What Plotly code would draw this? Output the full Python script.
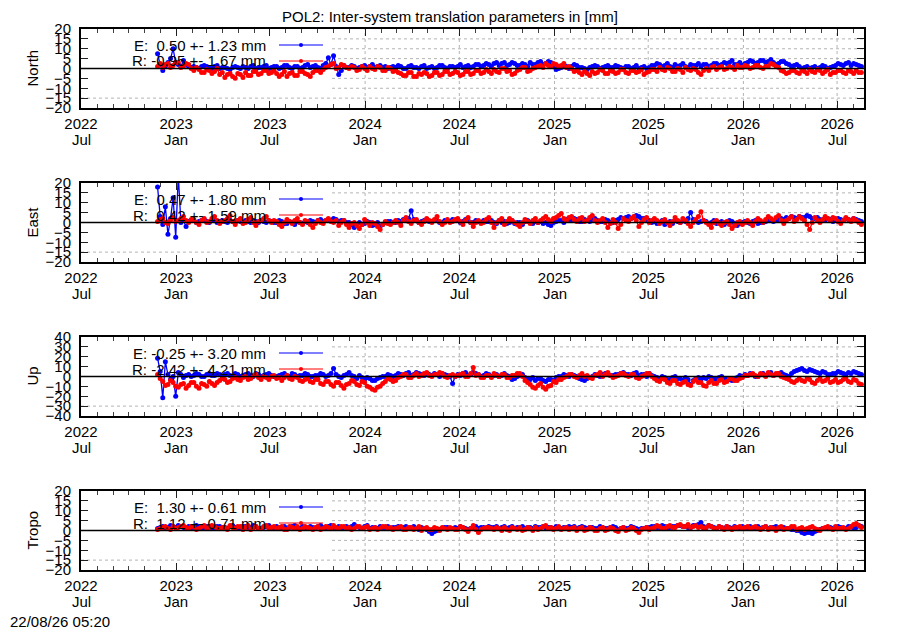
import plotly.graph_objects as go
import pandas as pd

# ---------------- data (5-day samples) ----------------
START = "2022-11-26"
STEP = "5D"

north_E = [7.5, 2, -1, 1, 3, 5, 10, 3, 2, 1, 4, 2, 1, 0.5,
           1, 0.5, 0, 1, 1.5, 1, 0.5, 0, 1, 1.5, 0, 0.5,
           0.5, 0, -0.5, 0.5, 1, 0.5, 0, 1, 0.5, 0, 1, 1.5, 0, 0.5, 0.5, 1, 1.5, 0, 0.5, 1,
           1, 0, 0.5, 1.5, 1.5, 0.5, 0, 1, 1, 0, 0.5, 1.5, 2, 0.5, 1, 1.5, 0.5, 0, 1.5, 2.5,
           5.5, 2, 6.5, 1, -3, -1, 1.5, 0.5, 0.5, 1.5,
           1, 0, 0.5, 1, 1.5, 0.5, 1, 2, 0.5, 1, 1.5, 0.5, 1, 0, 0.5, 1,
           0.5, 1.5, 1, 0, 0, 1, 1.5, 0.5, 0.5, 0, 1, 1.5, 0, 0.5, 1, 0, 0.5, 1.5, 1.5, 0.5, 0, 1, 1, 0.5,
           1, 2, 0.5, 1, 1.5, 0.5, 1, 2, 2, 1, 1.5, 2.5,
           2, 1, 2.5, 3, 1.5, 2.5, 3, 1.5, 2, 3, 2.5, 1.5, 1.5, 2.5, 2, 1, 3, 2, 2, 3,
           3.5, 2, 2.5, 3.5, 3, 1, -0.5, 0, 0.5, 1.5, 1, 0,
           1, 2, 1.5, 0.5, 0.5, 0, -0.5, 0.5, 1, 1.5,
           1, 0, 0.5, 1, 1.5, 0.5, 0.5, 1.5, 1, 0.5, 0, 1, 1, 0, 0.5, 1.5, 0, 0.5, 1, 0, 0.5, 1.5,
           1.5, 2.5, 2, 1, 1.5, 2.5, 1, 0.5, 2, 1, 1.5, 2.5, 1, 0.5, 2, 1.5, 1.5, 2.5, 1, 2,
           2, 1, 1.5, 2.5, 2.5, 1.5, 2, 3, 2.5, 3, 4, 2, 2, 3, 1.5, 2.5,
           3, 4, 3.5, 2.5, 3, 4, 4, 3, 3.5, 4.5, 3, 2, 2.5, 3.5, 3.5, 2.5, 2, 1, 1.5, 2, 1, 0,
           0.5, 1, 0, 0.5, 1, 0, 0.5, 1.5, 1, 0, 0.5, 1, 1.5, 2.5,
           2, 1.5, 2.5, 3, 1.5, 2.5, 2, 1.5, 1]
north_R = [1, 2.5, 0.5, 2, 2.5, 0.5, 1.5, 3, 3, 0.5, 1, 2.5, 2, 0,
           -1, 0.5, -0.5, -2, -2, -0.5, -1, -2.5, -1.5, 0, -3, -2,
           -4.5, -3, -2.5, -4, -5, -2.5, -3, -4.5, -2, -3.5, -3.5, -1.5, -1.5, -3, -2.5, -1, -1, -2.5, -2, -1,
           -2.5, -4, -3, -1.5, -4, -2.5, -2, -3.5, -3.5, -1.5, -1.5, -2.5, -3, -4, -2, -1, -1, -2, -0.5, 0.5,
           1, 2, 2.5, 0, 0.5, 2, 1.5, 0.5, 0, 1,
           0.5, -1, -0.5, 1, 0, -1, 1, 0, -0.5, 1, 0.5, -1, -1, 0.5, 0, -1.5,
           -1, -2, -2.5, -3.5, -3.5, -2, -2, -4, -4, -2.5, -3, -2, -2.5, -4, -3.5, -2, -2, -3.5, -3, -1.5, -1.5, -3, -2.5, -1.5,
           -2, -3.5, -3, -1.5, -1.5, -3, -2.5, -1, -1, -2.5, -2, -0.5,
           -1.5, -2.5, -0.5, -1.5, -2, 0, 0, -1.5, -1, -3, -2.5, -1, -0.5, 0.5, 0.5, -1.5, -1, 0, 0.5, 1,
           1.5, 0.5, 2.5, 1.5, 1, 2.5, 2, 1, 1.5, 2.5, 0.5, 1,
           0, -1.5, -1, -2, -3, -1.5, -2.5, -3.5, -1.5, -2.5,
           -2, -0.5, -1, -2.5, -2.5, -1, -1.5, -2.5, -2, -0.5, -0.5, -2, -2.5, -1, -1, -2, -1.5, -0.5, -3, -2, -1.5, -0.5,
           -0.5, -1.5, 0.5, -0.5, -1, 0.5, 0, -1.5, -1.5, 0, -0.5, -2, 0.5, -0.5, -1, 0, -0.5, -2, -3, -1,
           0, -1, 0.5, 1, -0.5, 0.5, 1, -0.5, 0, 1, 0.5, -0.5, 1.5, 0.5, 0.5, 1.5,
           1, 0, 0.5, 1.5, 1.5, 0.5, 0, 1, 1, 2.5, 2, 1, 0.5, -1, -1.5, -2.5, -2, -1, -1, -2, -2.5, -1,
           -1.5, -2.5, -0.5, -1.5, -2, -0.5, -1, -2.5, -1.5, -0.5, -3, -2, -2, -1,
           -1, -2, -2.5, -1, -1.5, -2.5, -1, -2, -2]

east_E = [18, 3, -1, 8, -6, 2, 12.5, -7.5, 24, 0, 1, -2, 0.5, 1,
          1, 0, 0.5, 1, 1.5, 0.5, 0, 1, 1, 0, 0.5, 1,
          0.5, 0, 1, 0.5, 0, 1, 0.5, 0, 1, 0.5, 0, 1, 0.5, 0, 1, 0.5, 0, 1, 0.5, 0,
          0, 1, 0.5, -0.5, -0.5, 0.5, 0, -1, 0.5, 0, -0.5, 0.5, 0, 1, 0.5, 0, 1, 1.5, 0.5, 1,
          1.5, 1, 2, 1.5, 0.5, 1, 1, 0, 0, -1,
          -2.5, -1, 0, -1, -0.5, 0.5, 0, -1.5, -1, 0, -2, -1, 0, 0.5, 0.5, 0,
          0, 1, 0.5, 1.5, 1, 2, 6, 1.5, 1, 0, 0.5, 1, 1.5, 0.5, 0.5, 1, 1, 0, 0, 1, 1, 0.5, 1.5, 1,
          1, 0, 0.5, 1.5, 1, 0, 0, 1, 0.5, 0, 1, 0.5,
          0.5, 1, 0, -0.5, 1, 0, 0.5, -0.5, 0, 1, -0.5, 0, 0, -1, 0.5, 1, 0, -0.5, 0.5, 0,
          0.5, -0.5, 0, -1, -1.5, 0, 0.5, 1, 1, 0, 1.5, 1,
          1, 2, 1.5, 0.5, 0.5, 1.5, 1, 0.5, 1.5, 2,
          1, 0.5, 0.5, 1.5, 1, 0, 0, 1, 1.5, 2.5, 2, 2.5, 3, 2, 2.5, 3.5, 3, 2, 2, 1.5, 1, 0,
          0.5, -0.5, 0, 1, -1, 0, 0.5, -0.5, 1, 0.5, 0, 1, 0.5, 2, 5, 1.5, 1, 0, 0.5, 1,
          0.5, -0.5, 0, 1, -0.5, 0, 0.5, -1, 0, 1, 0.5, -0.5, -1.5, -0.5, 0, 0.5,
          0, -0.5, 0.5, 1, -0.5, 0, 0, 0.5, 1, 1.5, 0.5, 1, 1, 2, 1.5, 2.5, 2, 3, 2.5, 2, 3, 2.5,
          2.5, 3.5, 3, 2, 2, 2.5, 1.5, 1, 1, 2, 1.5, 0.5, 1, 2,
          1.5, 1, 2, 1.5, 1, 2, 1.5, 1, 0.5]
east_R = [0.5, 1.5, 2, 0, -0.5, 1, 2.5, 0.5, 1, 2, 3, 1, 0, 1.5,
          1.5, 0, -1, 1, 2, 0, 0.5, 2, 3, 1, -0.5, 0.5,
          1, 2, 3.5, 0.5, -1, 1, 2, -0.5, 0, 1.5, 2.5, 0, -1.5, 0.5, 1, 2, 3, 1, 0, 1,
          0.5, -1, -2, 0, 1.5, 0.5, -0.5, 1, 2, 0, -1, 1, 0.5, -1, -2.5, -0.5, 1, 0, -0.5, 1,
          2, 0.5, 0, 1, -1.5, 0, 1, -1, -2.5, -0.5,
          0, -1.5, -3, -1, 1.5, 0, -1.5, 0, -0.5, -2, -3.5, -1, 0.5, -0.5, -1, 0,
          1, 0, -1.5, 1, 2.5, 0.5, -0.5, 1, 1.5, 0, -1, 0.5, 2, 1, 0, 1.5, 3, 0.5, -1, 0, 1.5, 0, 0.5, 1.5,
          2, 0.5, -1, 1, 2.5, 0, -2, 0, 1, -0.5, 0, 1.5,
          2.5, 0, -2.5, 0, 1, 2, -1, 0.5, 2, 1, 0, -1, -2, 0, 1.5, 0.5, -0.5, 1, 2, 0,
          1, 2, 3, 1.5, 0.5, 2, 2.5, 3.5, 4.5, 2, 1, 2.5,
          3, 1.5, 0.5, 2, 2.5, 0.5, 1, 2.5, 3.5, 1,
          0, 1, 2, 0, -2.5, -0.5, 1.5, 0, -3, -1, 2, 1, 0.5, 2, 3, 1, -2, 0, 1.5, 2.5, 0, 1,
          2, 1, -0.5, 0.5, 1.5, 0, -1.5, 0.5, 2.5, 1, 0, 2, 1, -0.5, -2, 0, 1.5, 3, 5.5, 1,
          0, -1, -2.5, 0, 1, -0.5, -1.5, 0, 0.5, -1, -3, -1.5, 0, 0.5, -1, 0,
          1, 0, -1.5, 0.5, 2, 1, 0, 1.5, 3, 2, 1, 2.5, 3.5, 1, -0.5, 1, 2, 3, 0.5, 1.5, 3, 2,
          1, -1, -3.5, 0, 2.5, 1, 0, 1.5, 3, 2, 1, 2.5, 2, 0.5,
          -0.5, 1, 2.5, 1.5, 0.5, 2, 1, 0, -1]

up_E = [18.5, 5, -21.5, 15, 2, -3, 0, -20, 4, 2, -1, 1, 2, 0,
        1, 3, 2, 0, 0, 2, 3, 1, 1, 3, 2, 0,
        2, 3, 1, 0, 3, 2, 0, 1, 2, 3, 1, 0, 3, 2, 0, 1, 2, 3, 1, 0,
        0, 1, 2, 3, 1, 0, 3, 2, 0, 1, 1, 3, 2, 0, 0, 1, 1, 3, 2, 0,
        1, 3, 8, 2, 0, -1, 1, 2, 4, 1,
        0, -2, 1, -1, -3, -1, -2, -4, -4, -2, -1, 0, 0, 2, 1, 0,
        1, 3, 2, 1, 3, 4, 1, 2, 4, 3, 2, 1, 3, 2, 1, 3, 2, 0, 3, 2, 1, 0, -7, 0,
        2, 1, 3, 4, 1, 2, 4, 3, 2, 0, 1, 3,
        2, 0, 1, 2, 0, 1, 3, 1, 0, -3, -2, 0, 1, 2, -1, -2, -3, -1, -4, -2,
        -2, -4, -5, -3, -3, -4, -1, 0, 0, 2, 1, 0,
        2, 1, 0, -2, -3, -4, -2, -1, 0, 2,
        1, 0, 2, 3, 3, 1, 1, 2, 2, 3, 4, 2, 2, 1, 3, 4, 1, 2, 2, 0, 3, 1,
        0, -1, -2, 0, -1, -3, -3, -1, 0, -2, -2, -4, -1, -3, -8, -4, -2, -1, -3, -1,
        -2, 0, -1, -2, -3, -1, 0, -2, -2, -3, -4, -2, -1, 1, 0, 2,
        1, 3, 2, 0, 0, 2, 3, 1, 2, 4, 1, 2, 3, 4, 2, 1, 0, 3, 5, 6, 7, 8,
        6, 5, 7, 6, 5, 4, 3, 5, 4, 2, 2, 3, 3, 5,
        4, 3, 2, 4, 3, 5, 4, 3, 2]
up_R = [2, -2, -5, -9, -8, -4, -6, -10, -11, -8, -7, -12, -9, -6,
        -6, -10, -12, -7, -8, -10, -5, -7, -9, -6, -4, -2,
        -3, -6, -5, -2, -1, -3, -4, -1, 0, -3, -2, 1, 2, -1, -3, 0, -1, -3, 0, 1,
        -2, -1, -4, -1, 1, -2, -3, 0, -1, -4, -5, -3, -2, -5, -6, -3, -3, -7, -8, -5,
        -5, -8, -10, -6, -6, -9, -12, -8, -7, -4,
        -5, -8, -9, -5, -6, -10, -11, -13, -14, -11, -10, -7, -5, -2, -3, -5,
        -4, -1, 0, 2, 2, -1, -1, 1, 3, 0, 1, 3, 4, 1, 0, 2, 2, 4, 3, 0, -1, 1, 2, 0,
        1, 2, 3, 0, 0, 3, 9, 1, 2, -1, -1, 1,
        1, -1, 3, 1, 0, 2, 2, -1, -1, 1, 1, 3, 3, 0, -4, -6, -8, -11, -12, -9,
        -7, -11, -13, -10, -9, -5, -6, -3, -3, -1, 0, 2,
        2, 0, -1, 1, 3, 0, 1, -1, -2, 1,
        2, 4, 0, 2, 4, 1, -1, 0, 1, 3, 3, 1, 0, 2, 2, -1, -2, 0, 1, 3, 3, 0,
        -2, -4, -5, -2, -3, -6, -7, -4, -4, -7, -8, -6, -5, -8, -9, -5, -3, -6, -6, -9,
        -10, -6, -4, -7, -7, -4, -3, -6, -5, -2, -2, -4, -4, -2, -1, 1,
        1, 2, 3, 1, 0, 3, 2, 0, 4, 2, 1, 3, 3, 0, -1, -2, -3, -5, -6, -4, -2, -4,
        -5, -2, -3, -6, -7, -4, -2, -5, -4, -2, -6, -5, -3, -6,
        -5, -3, -2, -5, -6, -3, -4, -7, -8]

tropo_E = [1, 1.5, 2, 1, 1.5, 2.5, 2, 1.5, 2.5, 2, 1.5, 1, 2, 1.5,
           1.5, 2.5, 2, 1.5, 1, 2, 2, 1, 1.5, 2, 2, 1.5,
           1.5, 1, 2, 2.5, 1.5, 1, 1, 2, 2, 1.5, 1.5, 2.5, 2, 1, 1, 1.5, 2, 2.5, 1.5, 1,
           2, 1, 1.5, 2, 1, 1.5, 2, 2.5, 1.5, 1, 2, 1.5, 1, 2, 1.5, 1, 2, 2.5, 1.5, 1,
           2, 2.5, 1.5, 1, 2, 1.5, 1, 2, 1.5, 2,
           3, 2, 1.5, 1, 2, 2.5, 1, 1.5, 1.5, 1, 2, 1.5, 1.5, 2, 1, 1.5,
           1.5, 2, 1, 1.5, 2, 1, 1.5, 2, 1, 0.5, 1.5, 1, 0.5, -0.5, -1.5, -0.5, 0, 0.5, 1, 1.5, 1.5, 1, 1, 1.5,
           1, 2, 1.5, 1, 0.5, 1, 1.5, 2, 1, 1.5, 1.5, 1,
           2, 1.5, 1.5, 2, 1, 1.5, 2, 1, 1.5, 2, 1, 1.5, 1.5, 2, 1, 1.5, 1.5, 1, 2, 1.5,
           1.5, 2, 1, 1.5, 1.5, 1, 2, 1.5, 1, 1.5, 1.5, 2,
           1.5, 2, 1, 1.5, 2, 1.5, 1, 1.5, 1.5, 1,
           1, 2, 1.5, 1, 1, 1.5, 2, 1.5, 0.5, 1, 1.5, 1, 1, 2, 1.5, 1, 0.5, 1, 1, 1.5, 1.5, 2,
           2, 1.5, 1.5, 2.5, 2, 1.5, 1.5, 2, 2, 2.5, 2.5, 2, 2, 1.5, 1.5, 2.5, 2.5, 3, 4, 2,
           1.5, 2.5, 2, 1.5, 1, 2, 1.5, 1, 2, 1.5, 1, 2, 1.5, 1, 2, 1.5,
           1.5, 2, 1, 1.5, 2, 1, 1.5, 2, 1, 1.5, 1.5, 2, 1, 1.5, 1.5, 1, 1, 0.5, 0.5, 0, 0, -1,
           -1.5, -1, -1, -1.5, -0.5, 0, 0.5, 1, 1, 1.5, 1.5, 1, 1, 2,
           1.5, 1, 1, 2, 2, 1, 1.5, 2.5, 2]
tropo_R = [0.5, 1, 1.5, 2, 1, 0.5, 2, 1, 1.5, 2, 2.5, 1.5, 1, 2,
           2, 0.5, 1, 2, 2.5, 1, 1.5, 2.5, 2, 1, 1, 1.5,
           1.5, 0.5, 2.5, 1.5, 1, 2, 2, 0.5, 1.5, 2.5, 0.5, 1, 2, 1, 1, 2, 2.5, 1, 1.5, 2,
           1, 1.5, 2, 0.5, 0.5, 2, 1.5, 1, 2, 0.5, 1, 2, 1.5, 1, 0.5, 1.5, 2, 0.5, 1, 2,
           1.5, 1, 2.5, 1.5, 1, 2, 2, 1, 1.5, 0.5,
           1, 2, 2, 1, 1.5, 2, 0.5, 1, 1.5, 0.5, 1, 2, 2, 1, 1.5, 0.5,
           1, 1.5, 2, 0.5, 0.5, 1.5, 1.5, 0.5, 1, 2, 0, 1, 1.5, 0.5, 0.5, 1.5, 1, 0, 1.5, 1, 0.5, 1.5, 1, 0.5,
           0.5, 2, 1.5, 0.5, -0.5, 1, 2.5, 0.5, -1, 0.5, 1, 1.5,
           1.5, 1, 0.5, 1.5, 1, 0, 1.5, 0.5, 0, 1.5, 1, 0.5, 1.5, 0, 0.5, 1.5, 1, 0, 1.5, 0.5,
           1, 2, 2.5, 1, 1.5, 0.5, 1, 2, 0.5, 1, 1.5, 0.5,
           1, 1.5, 0, 1, 1.5, 0, 0.5, 1.5, 1, 0,
           0, 1, 1.5, 0, 0.5, 1.5, 1, 0, -0.5, 1, 1.5, 0, 0.5, 1.5, 1, 0, -1, 0.5, 1, 1.5, 0.5, 1,
           1.5, 2.5, 2, 1, 1, 2, 2.5, 1.5, 1.5, 2.5, 3, 2, 2, 3, 1.5, 2, 2.5, 1.5, 2, 1,
           1.5, 2.5, 2, 1, 1, 2, 1.5, 0.5, 2, 1, 0.5, 1.5, 1.5, 2, 1, 1.5,
           2, 1, 1.5, 2, 1, 0.5, 1.5, 2, 0.5, 1.5, 1, 0, 1.5, 2, 0.5, 1, 1, 2, 2, 0.5, 1, 1.5,
           0.5, 1, 1.5, 2, 1, 0.5, 0, 1, 1.5, 2, 1, 0.5, 2, 1,
           1, 1.5, 0.5, 1, 2, 3, 3.5, 2.5, 1.5]

panel_names = ["North", "East", "Up", "Tropo"]
panel_ranges = [20, 20, 40, 20]
panel_dticks = [5, 5, 10, 5]
series_E = [north_E, east_E, up_E, tropo_E]
series_R = [north_R, east_R, up_R, tropo_R]
stats_E = ["\u00a00.50 +- 1.23 mm", "\u00a00.47 +- 1.80 mm", "-0.25 +- 3.20 mm", "\u00a01.30 +- 0.61 mm"]
stats_R = ["-0.95 +- 1.67 mm", "\u00a00.42 +- 1.59 mm", "-2.42 +- 4.21 mm", "\u00a01.12 +- 0.71 mm"]

tick_dates = ["2022-07-01", "2023-01-01", "2023-07-01", "2024-01-01", "2024-07-01",
              "2025-01-01", "2025-07-01", "2026-01-01", "2026-07-01"]
tick_years = ["2022", "2023", "2023", "2024", "2024", "2025", "2025", "2026", "2026"]
tick_months = ["Jul", "Jan", "Jul", "Jan", "Jul", "Jan", "Jul", "Jan", "Jul"]
X_RANGE = ["2022-07-01", "2026-08-22"]
TITLE = "POL2: Inter-system translation parameters in [mm]"
STAMP = "22/08/26 05:20"

# ---------------- layout helpers (screen pixel -> paper) ----------------
OFF = 8                      # page body margin
W, H = 892, 622
ML, MR, MT, MB = 81 - OFF, 36, 29 - OFF, 60
PW, PH = W - ML - MR, H - MT - MB   # 783 x 541


def px(x):
    return (x - 81) / PW


def pyu(y):
    return 1 - (y - 29) / PH


def py(y):
    return min(1.0, max(0.0, pyu(y)))


FONT = "Liberation Sans, Arial, sans-serif"
BLUE, RED = "#0000ff", "#ff0000"
GRID = dict(color="#b4b4b4", width=1, dash="dot")

fig = go.Figure()
shapes, annotations = [], []
layout_axes = {}

for k in range(4):
    top = 29 + 154 * k
    bot = top + 79
    sfx = "" if k == 0 else str(k + 1)
    xa, ya = "x" + sfx, "y" + sfx
    R = panel_ranges[k]
    dt = panel_dticks[k]

    for vals, col, nm in [(series_E[k], BLUE, "E"), (series_R[k], RED, "R")]:
        fig.add_trace(go.Scatter(
            x=pd.date_range(START, periods=len(vals), freq=STEP), y=vals,
            mode="lines+markers", name=nm, showlegend=False,
            line=dict(color=col, width=1.3),
            marker=dict(color=col, size=5, symbol="circle"),
            xaxis=xa, yaxis=ya))

    layout_axes["xaxis" + sfx] = dict(
        type="date", range=X_RANGE, domain=[0, 1], anchor=ya,
        tickmode="array", tickvals=tick_dates, ticktext=tick_years,
        ticks="inside", ticklen=7, tickwidth=1, tickcolor="#202020",
        showline=True, linewidth=2, linecolor="black", mirror="allticks",
        showgrid=False,
        minor=dict(ticks="inside", ticklen=4, dtick="M1", tick0="2022-07-01",
                   tickcolor="#404040", showgrid=False),
        tickfont=dict(family=FONT, size=15, color="black"),
        ticklabelstandoff=1, zeroline=False)
    layout_axes["yaxis" + sfx] = dict(
        range=[-R, R], domain=[py(bot), py(top)], anchor=xa,
        tickmode="linear", tick0=0, dtick=dt,
        ticks="inside", ticklen=7, tickwidth=1, tickcolor="#202020",
        showline=True, linewidth=2, linecolor="black", mirror="allticks",
        showgrid=False, zeroline=False,
        tickfont=dict(family=FONT, size=15, color="black"),
        ticklabelstandoff=5)

    # dotted grid (left part hidden behind the key area, as in the reference)
    for m in range(1, int(2 * R / dt)):
        v = -R + m * dt
        if v == 0:
            continue
        x0 = 0 if m == 1 else px(332)
        shapes.append(dict(type="line", xref=xa + " domain", yref=ya,
                           x0=x0, x1=1, y0=v, y1=v, line=GRID, layer="below"))
    for d in tick_dates[3:]:
        shapes.append(dict(type="line", xref=xa, yref=ya + " domain",
                           x0=d, x1=d, y0=0, y1=1, line=GRID, layer="below"))

    # zero axis on top of the data
    shapes.append(dict(type="line", xref=xa + " domain", yref=ya,
                       x0=0, x1=1, y0=0, y1=0,
                       line=dict(color="black", width=1.5), layer="above"))

    # month line of the x tick labels
    for d, mname in zip(tick_dates, tick_months):
        annotations.append(dict(xref=xa, yref="paper", x=d, y=pyu(bot + 31),
                                xanchor="center", yanchor="middle", showarrow=False,
                                text=mname, font=dict(family=FONT, size=15, color="black")))

    # key entries
    for j, (lab, txt, col) in enumerate([("E:", stats_E[k], BLUE), ("R:", stats_R[k], RED)]):
        yk = top + 16 + 16 * j
        annotations.append(dict(xref="paper", yref="paper", x=px(268), y=pyu(yk),
                                xanchor="right", yanchor="middle", showarrow=False,
                                text=lab + "\u00a0" + txt,
                                font=dict(family=FONT, size=15, color="black")))
        shapes.append(dict(type="line", xref="paper", yref="paper",
                           x0=px(279), x1=px(323), y0=pyu(yk), y1=pyu(yk),
                           line=dict(color=col, width=1), layer="above"))
        shapes.append(dict(type="circle", xref="paper", yref="paper",
                           x0=px(299), x1=px(303), y0=pyu(yk + 2), y1=pyu(yk - 2),
                           fillcolor=col, line=dict(color=col, width=0), layer="above"))

    # y-axis title
    annotations.append(dict(xref="paper", yref="paper", x=px(32), y=pyu((top + bot) / 2),
                            xanchor="center", yanchor="middle", showarrow=False,
                            textangle=-90, text=panel_names[k],
                            font=dict(family=FONT, size=15, color="black")))

annotations.append(dict(xref="paper", yref="paper", x=px(450), y=pyu(17),
                        xanchor="center", yanchor="middle", showarrow=False,
                        text=TITLE, font=dict(family=FONT, size=15, color="black")))
annotations.append(dict(xref="paper", yref="paper", x=px(8), y=pyu(621),
                        xanchor="left", yanchor="middle", showarrow=False,
                        text=STAMP, font=dict(family=FONT, size=15, color="black")))

fig.update_layout(
    width=W, height=H, autosize=False,
    margin=dict(l=ML, r=MR, t=MT, b=MB),
    paper_bgcolor="white", plot_bgcolor="white",
    showlegend=False, shapes=shapes, annotations=annotations,
    font=dict(family=FONT, size=15, color="black"),
    **layout_axes)

fig.write_html("out.html")
